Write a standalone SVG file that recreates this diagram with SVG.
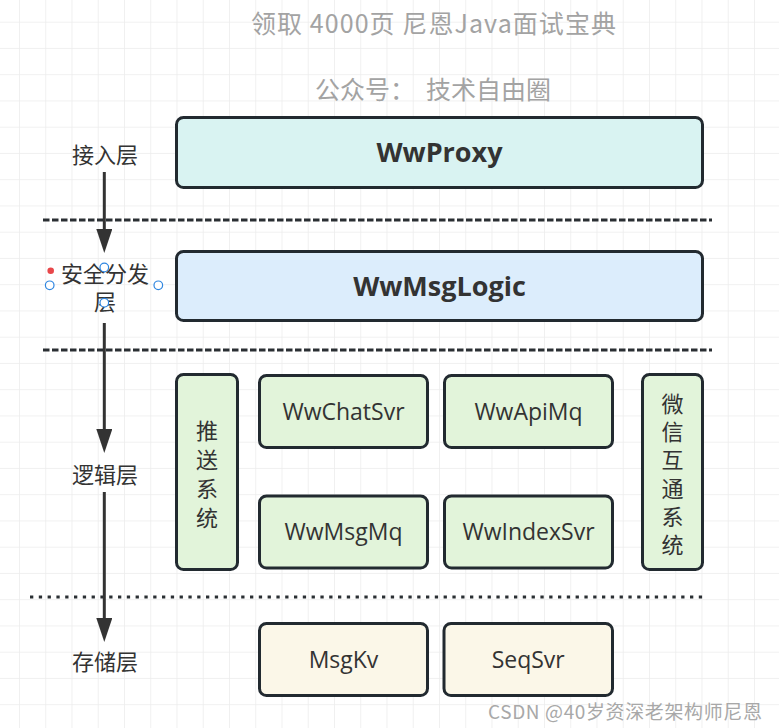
<svg xmlns="http://www.w3.org/2000/svg" width="779" height="728" viewBox="0 0 779 728">
<style>
.box{stroke:#222a30;stroke-width:3}
.cyan{fill:#d9f3f2}
.blue{fill:#dcedfc}
.green{fill:#e2f4da}
.cream{fill:#fbf7e8}
.lbl{font-family:"Open Sans","Noto Sans","Noto Sans CJK SC",sans-serif;font-size:23px;fill:#333;text-anchor:middle}
.big{font-family:"Open Sans","Noto Sans",sans-serif;font-size:27px;font-weight:bold;fill:#333;text-anchor:middle}
.cjk{font-family:"Noto Sans CJK SC",sans-serif;font-size:22px;fill:#333;text-anchor:middle;dominant-baseline:central}
.title{font-family:"Noto Sans CJK SC",sans-serif;font-size:25px;fill:#a3a3a3;text-anchor:middle;dominant-baseline:central}
.wm{font-family:"Noto Sans CJK SC",sans-serif;font-size:19px;fill:#a8a8a8;dominant-baseline:central}
.sep{stroke:#2a2f33;stroke-width:3;fill:none}
.flow{stroke:#333;stroke-width:3;fill:none}
.hdl{fill:#fff;stroke:#2f86e0;stroke-width:1.2}
</style>
<defs>
<pattern id="grid" patternUnits="userSpaceOnUse" x="19" y="21.7" width="26.25" height="26.25">
<path d="M0,0 H26.25 M0,0 V26.25" stroke="#ececec" stroke-width="1.5" fill="none"/>
</pattern>
<marker id="arr" markerUnits="userSpaceOnUse" viewBox="0 0 24 16" refX="12" refY="8" markerWidth="24" markerHeight="16" orient="auto">
<path d="M0,0 L24,8 L0,16 Z" fill="#333"/>
</marker>
</defs>
<rect width="779" height="728" fill="#fff"/>
<rect width="779" height="728" fill="url(#grid)"/>

<g id="title">
<text class="title" x="433.5" y="22" textLength="365" lengthAdjust="spacing">领取 4000页 尼恩Java面试宝典</text>
<text class="title" x="433" y="88" xml:space="preserve">公众号：  技术自由圈</text>
</g>

<g id="separators">
<line class="sep" x1="43" y1="220" x2="712" y2="220" stroke-dasharray="6.5 2.5"/>
<line class="sep" x1="43" y1="350" x2="712" y2="350" stroke-dasharray="6.5 2.5"/>
<line class="sep" x1="30" y1="597" x2="706" y2="597" stroke-dasharray="3.3 5.5"/>
</g>

<g id="connectors">
<line class="flow" x1="104.3" y1="172" x2="104.3" y2="241" marker-end="url(#arr)"/>
<line class="flow" x1="104.3" y1="323" x2="104.3" y2="441" marker-end="url(#arr)"/>
<line class="flow" x1="104.3" y1="492" x2="104.3" y2="630" marker-end="url(#arr)"/>
</g>

<g id="layer-access"><text class="cjk" x="105" y="153">接入层</text></g>
<g id="layer-security">
<text class="cjk" x="105" y="272">安全分发<tspan x="105" dy="28">层</tspan></text>
</g>
<g id="layer-logic"><text class="cjk" x="105" y="473">逻辑层</text></g>
<g id="layer-storage"><text class="cjk" x="105" y="660">存储层</text></g>

<g id="selection-handles">
<circle cx="50.7" cy="270.7" r="3.3" fill="#e8474a"/>
<circle class="hdl" cx="49.7" cy="285.3" r="4.3"/>
<circle class="hdl" cx="104.3" cy="267.5" r="4.3"/>
<circle class="hdl" cx="158.3" cy="285.3" r="4.3"/>
<circle class="hdl" cx="104.3" cy="302.7" r="4.3"/>
</g>

<g id="WwProxy">
<rect class="box cyan" x="176.5" y="117.5" width="526" height="70" rx="7"/>
<text class="big" x="439.5" y="162">WwProxy</text>
</g>
<g id="WwMsgLogic">
<rect class="box blue" x="176.5" y="251.5" width="526" height="69" rx="7"/>
<text class="big" x="439.5" y="295.5">WwMsgLogic</text>
</g>
<g id="push-system">
<rect class="box green" x="176.5" y="374.5" width="61" height="195" rx="7"/>
<text class="cjk" x="207" y="429">推<tspan x="207" dy="29">送</tspan><tspan x="207" dy="29">系</tspan><tspan x="207" dy="29">统</tspan></text>
</g>
<g id="WwChatSvr">
<rect class="box green" x="259.5" y="375.5" width="168" height="72" rx="7"/>
<text class="lbl" x="343.5" y="419.5">WwChatSvr</text>
</g>
<g id="WwApiMq">
<rect class="box green" x="444.5" y="375.5" width="168" height="72" rx="7"/>
<text class="lbl" x="528.5" y="419.5">WwApiMq</text>
</g>
<g id="WwMsgMq">
<rect class="box green" x="259.5" y="496" width="168" height="72" rx="7"/>
<text class="lbl" x="343.5" y="540">WwMsgMq</text>
</g>
<g id="WwIndexSvr">
<rect class="box green" x="444.5" y="496" width="168" height="72" rx="7"/>
<text class="lbl" x="528.5" y="540">WwIndexSvr</text>
</g>
<g id="wechat-interop">
<rect class="box green" x="642.5" y="374.5" width="60" height="195" rx="7"/>
<text class="cjk" x="672.5" y="401.7">微<tspan x="672.5" dy="28.3">信</tspan><tspan x="672.5" dy="28.3">互</tspan><tspan x="672.5" dy="28.3">通</tspan><tspan x="672.5" dy="28.3">系</tspan><tspan x="672.5" dy="28.3">统</tspan></text>
</g>
<g id="MsgKv">
<rect class="box cream" x="259.5" y="623.5" width="168" height="72" rx="7"/>
<text class="lbl" x="343.5" y="667.5">MsgKv</text>
</g>
<g id="SeqSvr">
<rect class="box cream" x="444" y="623.5" width="168.5" height="72" rx="7"/>
<text class="lbl" x="528.2" y="667.5">SeqSvr</text>
</g>

<g id="watermark">
<text class="wm" x="488" y="710" textLength="274" lengthAdjust="spacing">CSDN @40岁资深老架构师尼恩</text>
</g>
</svg>
